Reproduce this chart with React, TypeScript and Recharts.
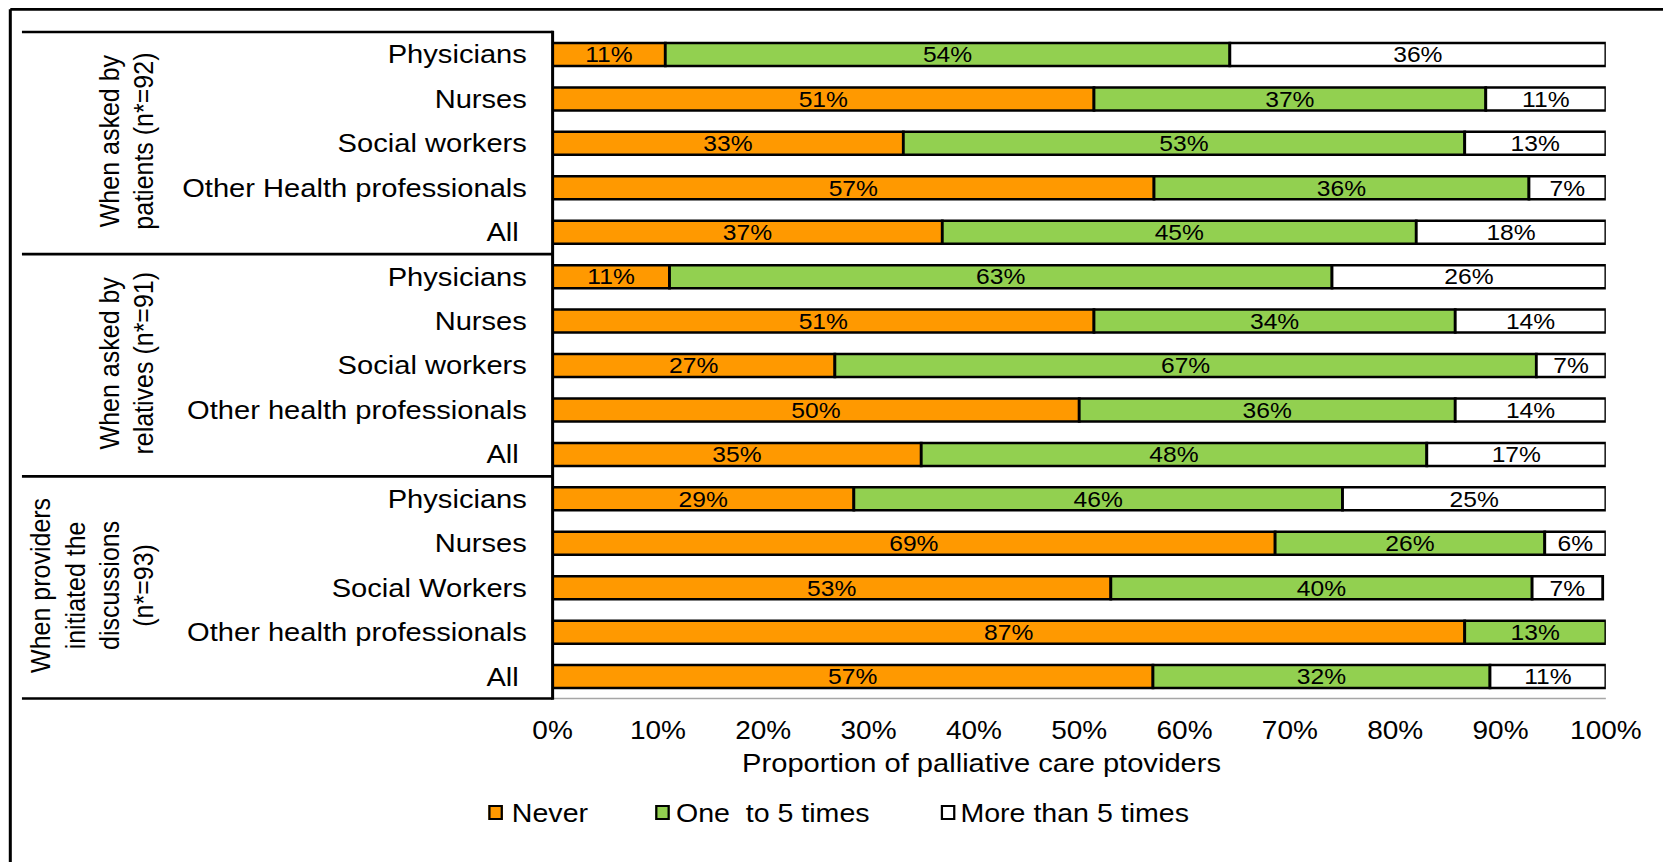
import { BarChart, Bar, XAxis, YAxis, LabelList, Label } from 'recharts'

// ---- data (rows top to bottom) ----

const groupTitles = [
  ['When asked by', 'patients (n*=92)'],
  ['When asked by', 'relatives (n*=91)'],
  ['When providers', 'initiated the', 'discussions', '(n*=93)'],
]

// trailing nbsp on "All" keeps the extra space the original has
const providers = [
  'Physicians', 'Nurses', 'Social workers', 'Other Health professionals', 'All\u00A0',
  'Physicians', 'Nurses', 'Social workers', 'Other health professionals', 'All\u00A0',
  'Physicians', 'Nurses', 'Social Workers', 'Other health professionals', 'All\u00A0',
]

const never = [10.7, 51.4, 33.3, 57.1, 37.0, 11.1, 51.4, 26.8, 50.0, 35.0, 28.6, 68.6, 53.0, 86.6, 57.0]
const oneToFive = [53.6, 37.2, 53.3, 35.6, 45.0, 62.9, 34.3, 66.6, 35.7, 48.0, 46.4, 25.6, 40.0, 13.4, 32.0]
const moreThanFive = [35.7, 11.4, 13.4, 7.3, 18.0, 26.0, 14.3, 6.6, 14.3, 17.0, 25.0, 5.8, 6.7, 0, 11.0]

const xTicks = [0, 10, 20, 30, 40, 50, 60, 70, 80, 90, 100]

const legendItems = [
  { label: 'Never', color: '#FF9900' },
  { label: 'One  to 5 times', color: '#92D050' },
  { label: 'More than 5 times', color: '#FFFFFF' },
]

// ---- layout ----
// the original is stretched sideways, so everything is drawn narrower and scaled
const STRETCH = 1.12
const W = 1485
const H = 862
const PLOT_LEFT = 493.4
const PLOT_RIGHT = 1433.8
const PLOT_TOP = 32
const PLOT_BOTTOM = 698.5
const X_AXIS_H = 40
const GROUP_H = ((PLOT_BOTTOM - PLOT_TOP) / providers.length) * 5
const FONT = "'Liberation Sans', Arial, sans-serif"

const rows = providers.map((_, i) => ({
  id: i,
  never: never[i],
  oneToFive: oneToFive[i],
  moreThanFive: moreThanFive[i],
}))

const pct = (v: any) => (Number(v) > 0 ? `${Math.round(Number(v))}%` : '')

function AxisTitle(props: any) {
  const vb = props.viewBox
  return (
    <text
      x={vb.x + vb.width / 2 - 87.2}
      y={vb.y + 73.2}
      textAnchor="middle"
      fontSize={26}
      fill="#000"
    >
      Proportion of palliative care ptoviders
    </text>
  )
}

function Frame() {
  const lw = 2.7
  const legX = [
    { sq: 436.0, tx: 457.0 },
    { sq: 584.6, tx: 603.5 },
    { sq: 839.6, tx: 857.5 },
  ]
  return (
    <>
      <svg
        width={W}
        height={H}
        style={{ position: 'absolute', left: 0, top: 0, pointerEvents: 'none' }}
      >
        {/* outer frame */}
        <line x1={9.2} y1={9.3} x2={W} y2={9.3} stroke="#000" strokeWidth={lw} />
        <line x1={9.2} y1={9.3} x2={9.2} y2={H} stroke="#000" strokeWidth={lw} />
        {/* group box */}
        {[0, 1, 2, 3].map((g) => (
          <line
            key={g}
            x1={19.6}
            x2={PLOT_LEFT}
            y1={PLOT_TOP + g * GROUP_H}
            y2={PLOT_TOP + g * GROUP_H}
            stroke="#000"
            strokeWidth={lw}
          />
        ))}
        <line
          x1={PLOT_LEFT}
          x2={PLOT_LEFT}
          y1={PLOT_TOP - lw / 2}
          y2={PLOT_BOTTOM + lw / 2}
          stroke="#000"
          strokeWidth={lw}
        />
        {groupTitles.map((lines, g) => {
          const cy = PLOT_TOP + (g + 0.5) * GROUP_H - 2
          return lines.map((t, k) => {
            const bx = 136.5 - (lines.length - 1 - k) * 30.5
            return (
              <text
                key={`${g}-${k}`}
                x={bx}
                y={cy}
                transform={`rotate(-90 ${bx} ${cy})`}
                textAnchor="middle"
                fontSize={25}
                fill="#000"
              >
                {t}
              </text>
            )
          })
        })}
      </svg>
      {legendItems.map((it, i) => (
        <div key={it.label}>
          <div
            style={{
              position: 'absolute',
              left: legX[i].sq,
              top: 805,
              width: 13.4,
              height: 14.5,
              boxSizing: 'border-box',
              border: '2.6px solid #000',
              background: it.color,
            }}
          />
          <div
            style={{
              position: 'absolute',
              left: legX[i].tx,
              top: 797.5,
              fontSize: 25.5,
              lineHeight: '30px',
              whiteSpace: 'pre',
              color: '#000',
            }}
          >
            {it.label}
          </div>
        </div>
      ))}
    </>
  )
}

export default function App() {
  return (
    <div
      style={{
        position: 'absolute',
        left: 0,
        top: 0,
        width: W,
        height: H,
        background: '#fff',
        fontFamily: FONT,
        transform: `scaleX(${STRETCH})`,
        transformOrigin: '0 0',
        overflow: 'hidden',
      }}
    >
      <BarChart
        layout="vertical"
        width={W}
        height={H}
        data={rows}
        barSize={23}
        margin={{ top: PLOT_TOP, right: W - PLOT_RIGHT, bottom: H - PLOT_BOTTOM - X_AXIS_H, left: 0 }}
      >
        <XAxis
          type="number"
          domain={[0, 100]}
          ticks={xTicks}
          interval={0}
          allowDataOverflow
          tickFormatter={(v) => `${v}%`}
          tick={{ fontSize: 25, fill: '#000' }}
          tickLine={false}
          tickSize={0}
          tickMargin={23}
          height={X_AXIS_H}
          axisLine={{ stroke: '#a6a6a6', strokeWidth: 1.5 }}
        >
          <Label content={AxisTitle} />
        </XAxis>
        <YAxis
          type="category"
          dataKey="id"
          width={PLOT_LEFT}
          interval={0}
          tickFormatter={(v) => providers[v]}
          tick={{ fontSize: 26, fill: '#000' }}
          tickLine={false}
          tickSize={0}
          tickMargin={23}
          axisLine={false}
        />
        <Bar dataKey="never" stackId="s" fill="#FF9900" stroke="#000" strokeWidth={2.5} isAnimationActive={false}>
          <LabelList dataKey="never" position="center" formatter={pct} fontSize={22} fill="#000" stroke="none" />
        </Bar>
        <Bar dataKey="oneToFive" stackId="s" fill="#92D050" stroke="#000" strokeWidth={2.5} isAnimationActive={false}>
          <LabelList dataKey="oneToFive" position="center" formatter={pct} fontSize={22} fill="#000" stroke="none" />
        </Bar>
        <Bar dataKey="moreThanFive" stackId="s" fill="#FFFFFF" stroke="#000" strokeWidth={2.5} isAnimationActive={false}>
          <LabelList dataKey="moreThanFive" position="center" formatter={pct} fontSize={22} fill="#000" stroke="none" />
        </Bar>
      </BarChart>
      <Frame />
    </div>
  )
}
